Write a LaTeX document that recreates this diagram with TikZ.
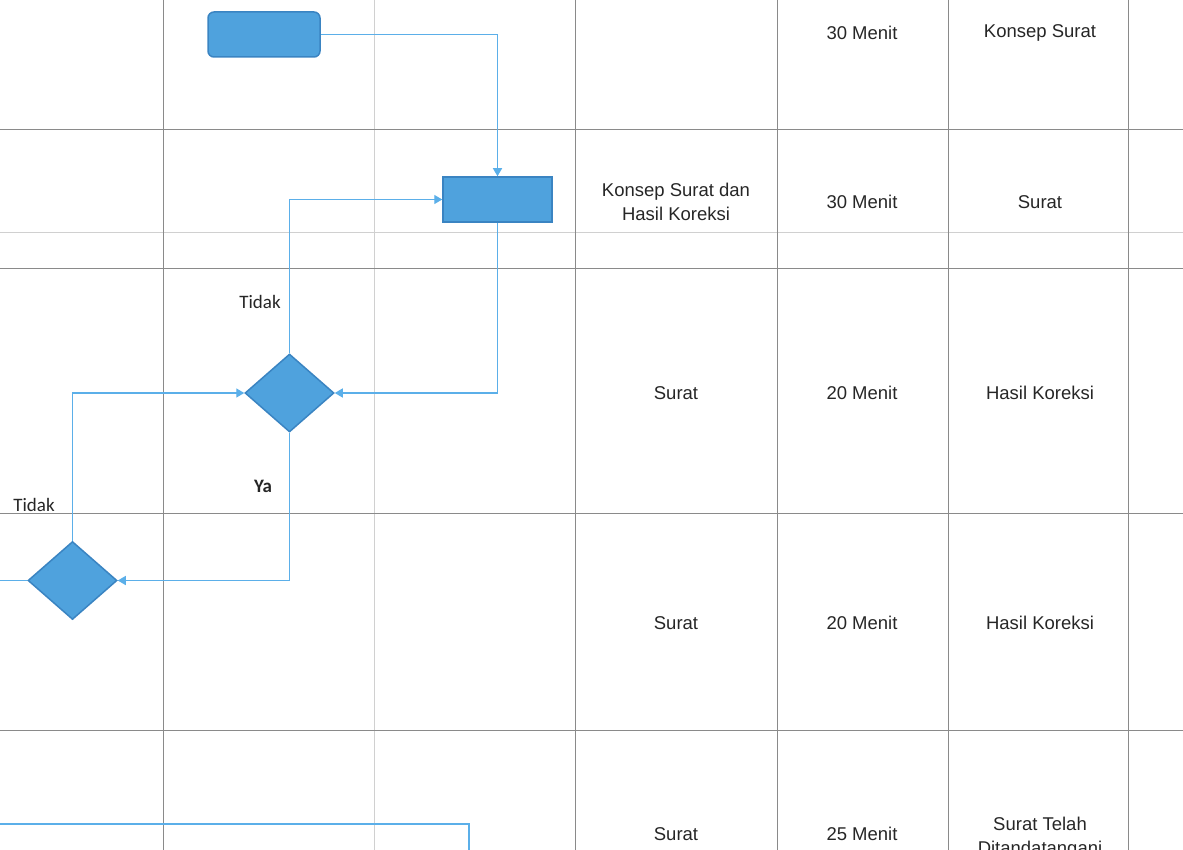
\documentclass[tikz,border=0pt]{standalone}
\usepackage{fontspec}
\setmainfont{Liberation Sans}
\newfontfamily\lblfont{Carlito}
\usetikzlibrary{shapes.geometric,arrows.meta}
\definecolor{shapefill}{HTML}{4FA2DD}
\definecolor{shapeedge}{HTML}{3A84C2}
\definecolor{connc}{HTML}{5BAFE9}
\definecolor{gridc}{HTML}{8A8A8A}
\definecolor{gridl}{HTML}{D0D0D0}
\tikzset{
  gridline/.style={draw=gridc,line width=1pt},
  gridlight/.style={draw=gridl,line width=1pt},
  termbox/.style={draw=shapeedge,fill=shapefill,line width=1.5pt,rounded corners=6pt,minimum width=112pt,minimum height=45pt,inner sep=0pt},
  procbox/.style={draw=shapeedge,fill=shapefill,line width=1.5pt,minimum width=109pt,minimum height=45pt,inner sep=0pt},
  decbox/.style={diamond,draw=shapeedge,fill=shapefill,line width=1.5pt,minimum width=89pt,minimum height=78pt,inner sep=0pt},
  conn/.style={draw=connc,line width=1.4pt,-{Triangle[width=9pt,length=8pt]}},
  plain/.style={draw=connc,line width=1.4pt},
  celltext/.style={font=\fontsize{18.5}{23.5}\selectfont,align=center,text=black!85},
  lbl/.style={font=\lblfont\fontsize{19}{22}\selectfont,text=black!85}
}
\begin{document}
\begin{tikzpicture}[x=1pt,y=-1pt]
\useasboundingbox (0,0) rectangle (1183,850);
% grid
\draw[gridlight] (0,233) -- (1183,233);
\draw[gridlight] (374,0) -- (374,850);
\draw[gridline] (0,130) -- (1183,130);
\draw[gridline] (0,269) -- (1183,269);
\draw[gridline] (0,513) -- (1183,513);
\draw[gridline] (0,730) -- (1183,730);
\foreach \x in {163,575,777,948,1128} \draw[gridline] (\x,0) -- (\x,850);
% shapes
\node[termbox] (start) at (264,34.5) {};
\node[procbox] (proc) at (497.5,199.5) {};
\node[decbox] (d1) at (289.5,393) {};
\node[decbox] (d2) at (72.5,580.5) {};
\coordinate (leftend) at (0,580.5);
\coordinate (b1) at (0,824);
\coordinate (b2) at (469,824);
\coordinate (b3) at (469,850);
% connectors
\draw[conn] (start.east) -| (proc.north);
\draw[conn] (d1.north) |- (proc.west);
\draw[conn] (proc.south) |- (d1.east);
\draw[conn] (d1.south) |- (d2.east);
\draw[conn] (d2.north) |- (d1.west);
\draw[plain] (d2.west) -- (leftend);
\draw[plain] (b1) -- (b2) -- (b3);
% labels
\node[lbl] (t1) at (260,302) {Tidak};
\node[lbl,font=\lblfont\bfseries\fontsize{19}{22}\selectfont] (ya) at (263,486) {Ya};
\node[lbl] (t2) at (34,505) {Tidak};
% table text
\node[celltext] (r1b) at (862,33) {30 Menit};
\node[celltext] (r1c) at (1040,33) {Konsep Surat};
\node[celltext] (r2a) at (676,202) {Konsep Surat dan\\Hasil Koreksi};
\node[celltext] (r2b) at (862,202) {30 Menit};
\node[celltext] (r2c) at (1040,202) {Surat};
\node[celltext] (r3a) at (676,393) {Surat};
\node[celltext] (r3b) at (862,393) {20 Menit};
\node[celltext] (r3c) at (1040,393) {Hasil Koreksi};
\node[celltext] (r4a) at (676,623) {Surat};
\node[celltext] (r4b) at (862,623) {20 Menit};
\node[celltext] (r4c) at (1040,623) {Hasil Koreksi};
\node[celltext] (r5a) at (676,834) {Surat};
\node[celltext] (r5b) at (862,834) {25 Menit};
\node[celltext,anchor=north] (r5c) at (1040,814) {Surat Telah\\Ditandatangani};
\end{tikzpicture}
\end{document}
